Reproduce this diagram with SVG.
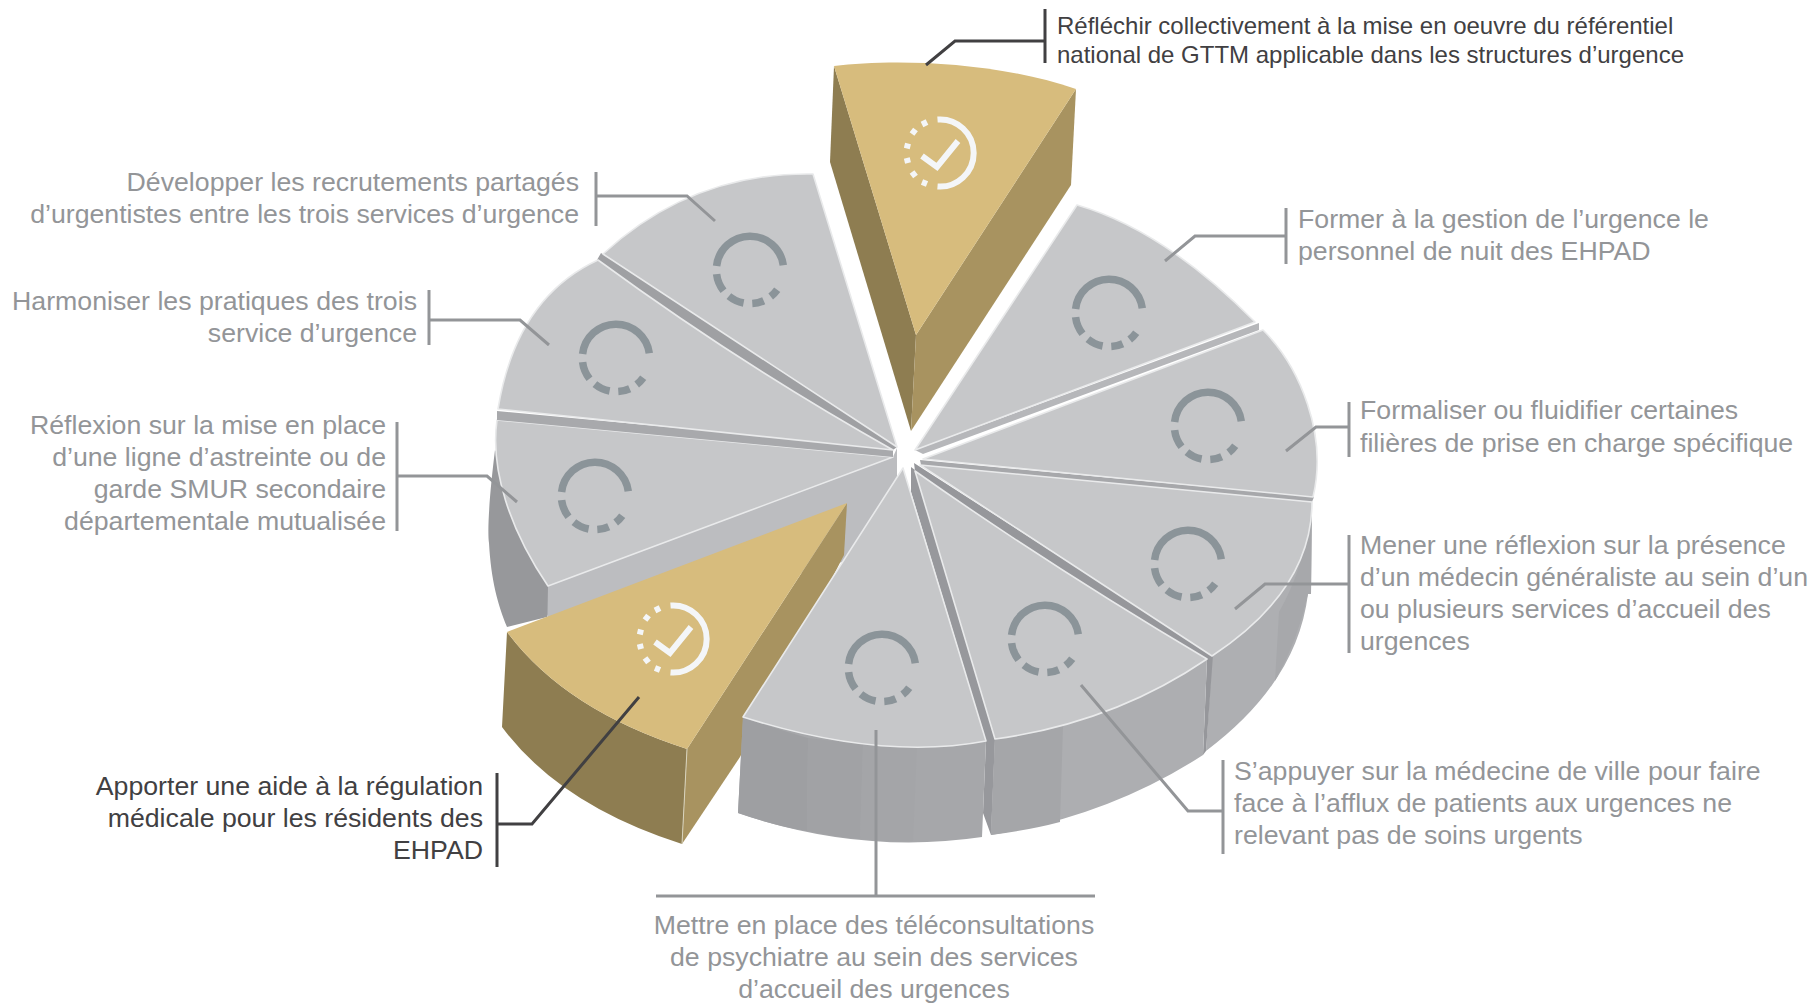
<svg xmlns="http://www.w3.org/2000/svg" width="1813" height="1003" viewBox="0 0 1813 1003">
<style>
text{font-family:"Liberation Sans",Arial,sans-serif;font-size:26.7px;fill:#939598}
.dk{fill:#414042}
.top{font-size:24px}
.end{text-anchor:end}
.mid{text-anchor:middle}
.w{fill:#c6c7c9;stroke:#e9eaeb;stroke-width:1.6;stroke-linejoin:round}
.gt{fill:#d7bc7d}.gl{fill:#8e7d51}.gr{fill:#a89360}
.ld{fill:none;stroke:#939598;stroke-width:3}
.ldk{fill:none;stroke:#414042;stroke-width:3}
.ig{fill:none;stroke:#8b9499;stroke-width:7.5}
.iw{fill:none;stroke:#f4f6f8;stroke-width:6}
</style>
<defs>
<g id="ring" class="ig">
<path d="M-33.400 -4A33.600 33.600 0 0 1 33.300 -4.700M-33.400 4.100A33.600 33.600 0 0 0 -26.500 20.700M-21.100 26.100A33.600 33.600 0 0 0 -6.400 33M2.300 33.500A33.600 33.600 0 0 0 13.700 30.700M20.700 26.500A33.600 33.600 0 0 0 27.200 19.700"/>
</g>
<g id="ok" class="iw">
<path d="M-2.500 -33.500A33.600 33.600 0 1 1 -2.500 33.500"/>
<path d="M-13 -31L-18 -28.500M-24.500 -23.500L-28 -19M-32 -9.500L-33.200 -4.500M-33.200 5L-32 10M-28 19L-24.500 23.500M-18 29L-13 31"/>
<path d="M-18 3L-3 14L18 -12"/>
</g>
</defs>

<g id="node-reflexion">
<path fill="#97989b" d="M495 450C490 490 487 530 489 543C491 580 498 605 507 627L547 617L570 560Z"/>
<path fill="#bcbdc0" d="M548 586L893 457L897 448L897 485L850 560L547 640Z"/>
<path class="w" d="M497 420C490 470 510 530 548 586L893 457Z"/>
<use href="#ring" x="595" y="496"/>
<text class="end" x="386" y="434">Réflexion sur la mise en place</text>
<text class="end" x="386" y="466">d’une ligne d’astreinte ou de</text>
<text class="end" x="386" y="498">garde SMUR secondaire</text>
<text class="end" x="386" y="530">départementale mutualisée</text>
</g>

<g id="node-harmoniser">
<path fill="#a8a9ac" d="M497 411L497 420L893 457L893 448Z"/>
<path fill="#9fa0a3" d="M601 253L597 260Q740 364 893 450L897 447Z"/>
<path class="w" d="M498 409Q516 298 598 260Q740 364 893 450Z"/>
<use href="#ring" x="616" y="358"/>
<text class="end" x="417" y="310">Harmoniser les pratiques des trois</text>
<text class="end" x="417" y="342">service d’urgence</text>
</g>

<g id="node-developper">
<path class="w" d="M603 254Q692 172 813 174L897 447Z"/>
<use href="#ring" x="750" y="270"/>
<text class="end" x="579" y="191">Développer les recrutements partagés</text>
<text class="end" x="579" y="223">d’urgentistes entre les trois services d’urgence</text>
</g>

<g id="node-former">
<path fill="#b6b7ba" d="M915 450L1259 323L1259 330L923 454Z"/>
<path class="w" d="M915 450L1077 205Q1164 230 1255 322Z"/>
<use href="#ring" x="1109" y="313"/>
<text x="1298" y="228">Former à la gestion de l’urgence le</text>
<text x="1298" y="260">personnel de nuit des EHPAD</text>
</g>

<g id="node-formaliser">
<path fill="#a7a8ab" d="M920 460L1314 497L1312 502L921 465Z"/>
<path class="w" d="M923 459L1263 330C1300 367 1328 435 1313 497Z"/>
<use href="#ring" x="1208" y="426"/>
<text x="1360" y="419">Formaliser ou fluidifier certaines</text>
<text x="1360" y="452">filières de prise en charge spécifique</text>
</g>

<g id="node-mener">
<path fill="#aeafb2" d="M1212 656L1206 751Q1297 683 1308 594L1311 594L1312 502Q1312 590 1212 656Z"/>
<path fill="#a7a8ab" d="M1279 612Q1306 565 1312 502L1311 594L1308 594Q1298 640 1275 681Z"/>
<path fill="#96979b" d="M914 463L1213 655L1206 751L1203 755L1207 659Q1050 566 915 471Z"/>
<path class="w" d="M920 465L1312 502Q1312 590 1212 656Z"/>
<use href="#ring" x="1188" y="564"/>
<text x="1360" y="554">Mener une réflexion sur la présence</text>
<text x="1360" y="586">d’un médecin généraliste au sein d’un</text>
<text x="1360" y="618">ou plusieurs services d’accueil des</text>
<text x="1360" y="650">urgences</text>
</g>

<g id="node-sappuyer">
<path fill="#adaeb1" d="M995 739L991 835Q1109 816 1203 755L1207 659Q1113 723 995 739Z"/>
<path fill="#a5a6a9" d="M995 739L991 835Q1030 830 1060 822L1063 726Q1030 735 995 739Z"/>
<path fill="#97989c" d="M911 467L915 470L995 739L991 835L983 813L986 741L911 492Z"/>
<path class="w" d="M915 471Q1050 566 1207 659Q1113 723 995 739Z"/>
<use href="#ring" x="1045" y="639"/>
<text x="1234" y="780">S’appuyer sur la médecine de ville pour faire</text>
<text x="1234" y="812">face à l’afflux de patients aux urgences ne</text>
<text x="1234" y="844">relevant pas de soins urgents</text>
</g>

<g id="node-apporter">
<path class="gl" d="M507 632L502 727Q560 805 682 844L687 749Q565 710 507 632Z"/>
<path class="gr" d="M847 503L844 555L740 757L682 844L687 749Z"/>
<path class="gt" d="M847 503L507 632Q565 710 687 749Z"/>
<path d="M687 749L682 844" stroke="#d8d3bd" stroke-width="1" fill="none"/>
<use href="#ok" x="673" y="639"/>
<text class="end dk" x="483" y="795">Apporter une aide à la régulation</text>
<text class="end dk" x="483" y="827">médicale pour les résidents des</text>
<text class="end dk" x="483" y="859">EHPAD</text>
</g>

<g id="node-mettre">
<path fill="#a6a7aa" d="M743 717L738 813Q860 855 982 837L986 741Q881.500 761 743 717Z"/>
<path fill="#9e9fa2" d="M743 717L738 813Q775 826 807 831L808 738Q775 729 743 717Z"/>
<path fill="#a1a2a5" d="M808 738L807 831Q835 837 860 839L863 743Q835 742 808 738Z"/>
<path fill="#a4a5a8" d="M863 743L860 839Q888 842 913 841L917 745Q890 746 863 743Z"/>
<path class="w" d="M903 468L986 741Q881.500 761 743 717Z"/>
<use href="#ring" x="882" y="668"/>
<text class="mid" x="874" y="934">Mettre en place des téléconsultations</text>
<text class="mid" x="874" y="966">de psychiatre au sein des services</text>
<text class="mid" x="874" y="998">d’accueil des urgences</text>
</g>

<g id="node-reflechir">
<path class="gl" d="M834 66L830 162L911 431L916 335Z"/>
<path class="gr" d="M916 335L911 431L1071 185L1076 89Z"/>
<path class="gt" d="M834 66C890 59 990 60 1076 89L916 335Z"/>
<use href="#ok" x="940" y="153"/>
<text class="top dk" x="1057" y="34">Réfléchir collectivement à la mise en oeuvre du référentiel</text>
<text class="top dk" x="1057" y="63">national de GTTM applicable dans les structures d’urgence</text>
</g>

<g id="connectors">
<path class="ldk" d="M1045 9V63M1045 41H955L926 65"/>
<path class="ld" d="M596 172V226M596 196H687L715 221"/>
<path class="ld" d="M429 290V345M429 320H520L549 345"/>
<path class="ld" d="M397 422V531M397 476H487L517 502"/>
<path class="ld" d="M1286 208V264M1286 236H1195L1165 261"/>
<path class="ld" d="M1349 402V457M1349 427H1316L1286 451"/>
<path class="ld" d="M1349 535V653M1349 584H1265L1235 609"/>
<path class="ld" d="M1223 760V854M1223 811H1188L1081 685"/>
<path class="ld" d="M656 896H1095M876 730V896"/>
<path class="ldk" d="M497 773V867M497 824H532L639 697"/>
</g>
</svg>
